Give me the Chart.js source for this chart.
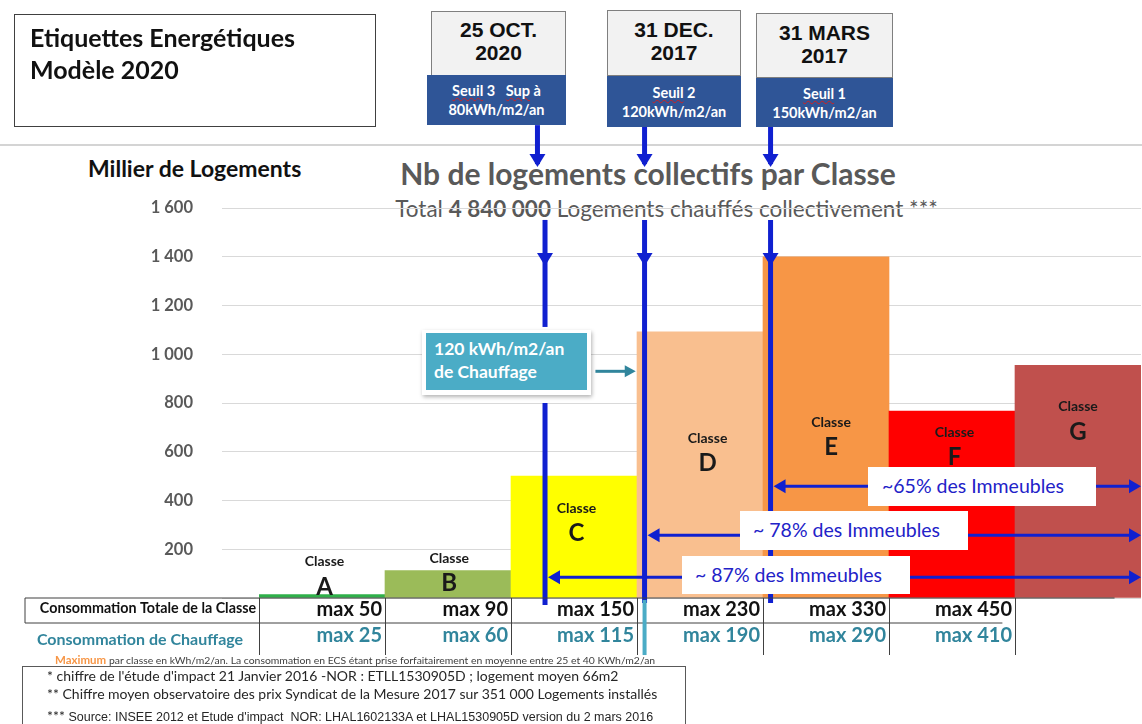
<!DOCTYPE html>
<html lang="fr">
<head>
<meta charset="utf-8">
<title>Nb de logements collectifs par Classe</title>
<script src="https://cdn.jsdelivr.net/npm/chart.js@4.4.1/dist/chart.umd.min.js"></script>
<style>
  html, body { margin: 0; padding: 0; background: #fff; }
  body { width: 1142px; height: 724px; position: relative; overflow: hidden; font-family: Lato, "Open Sans", sans-serif; }
  .abs { position: absolute; box-sizing: border-box; }
  #wrap { position: absolute; left: 0; top: 0; width: 1142px; height: 724px; z-index: 2; }
  .over { z-index: 3; }
  .under { z-index: 1; }
  .dateTop { background: #f2f2f2; border: 1px solid #7f7f7f; font: bold 21px "Liberation Sans", Arial, sans-serif; color: #111; text-align: center; line-height: 23px; }
  .seuil { background: #2f5597; color: #fff; font: bold 14.5px Lato, sans-serif; text-align: center; line-height: 19px; white-space: nowrap; }
  .seuil u { text-decoration: underline wavy #d02020; text-decoration-thickness: 1px; }
  .part { background: #fff; color: #2222c8; font: 19.5px Lato, sans-serif; line-height: 38px; white-space: nowrap; }
  .note { font: 14px Lato, sans-serif; color: #262626; white-space: nowrap; }
</style>
</head>
<body>

<div class="abs over" style="left:14px;top:14px;width:362px;height:113px;border:1.5px solid #404040;padding:6px 0 0 15px;font:bold 25px Lato,sans-serif;line-height:32px;color:#111;">
  Etiquettes Energétiques<br>Modèle 2020
</div>

<div class="abs over dateTop" style="left:431px;top:11px;width:135px;height:65px;padding-top:6px;">25 OCT.<br>2020</div>
<div class="abs over seuil" style="left:427px;top:75px;width:139px;height:50px;padding-top:6px;"><u>Seuil</u> 3&nbsp;&nbsp; <u>Sup</u> à<br>80kWh/m2/an</div>

<div class="abs over dateTop" style="left:607px;top:10px;width:134px;height:66px;padding-top:7px;">31 DEC.<br>2017</div>
<div class="abs over seuil" style="left:607px;top:76px;width:134px;height:51px;padding-top:7px;"><u>Seuil</u> 2<br>120kWh/m2/an</div>

<div class="abs over dateTop" style="left:756px;top:13px;width:137px;height:65px;padding-top:7px;">31 MARS<br>2017</div>
<div class="abs over seuil" style="left:756px;top:78px;width:137px;height:49px;padding-top:6px;"><u>Seuil</u> 1<br>150kWh/m2/an</div>

<div class="abs under" style="left:0;top:144px;width:1142px;height:2px;background:#d4d4d4;"></div>

<div class="abs under" style="left:88px;top:154px;font:bold 23px Lato,sans-serif;color:#111;white-space:nowrap;">Millier de Logements</div>
<div class="abs under" style="left:0;top:155px;width:1296px;text-align:center;font:bold 30px Lato,sans-serif;color:#595959;white-space:nowrap;">Nb de logements collectifs par Classe</div>
<div class="abs under" style="left:0;top:195px;width:1333px;text-align:center;font:22.5px Lato,sans-serif;color:#595959;white-space:nowrap;">Total <b>4 840 000</b> Logements chauffés collectivement ***</div>

<div id="wrap"><canvas id="chart"></canvas></div>

<div class="abs over" style="left:422px;top:330px;width:169px;height:65px;background:#fff;box-shadow:1px 2px 4px rgba(0,0,0,0.3);padding:3px 4px;">
  <div style="background:#4bacc6;height:57px;padding:4px 0 0 8px;box-sizing:border-box;font:bold 17.5px Lato,sans-serif;color:#fff;line-height:23px;white-space:nowrap;">120 kWh/m2/an<br>de Chauffage</div>
</div>

<div class="abs over part" style="left:868px;top:467px;width:228px;height:39px;padding-left:14px;">~65% des Immeubles</div>
<div class="abs over part" style="left:740px;top:511px;width:228px;height:39px;padding-left:13px;">~ 78% des Immeubles</div>
<div class="abs over part" style="left:682px;top:556px;width:228px;height:38px;padding-left:13px;">~ 87% des Immeubles</div>

<div class="abs over" style="left:55px;top:653px;font:10.4px Lato,sans-serif;color:#404040;white-space:nowrap;"><span style="color:#f79646;font-weight:bold;font-size:11.5px;">Maximum</span> par classe en kWh/m2/an. La consommation en ECS étant prise forfaitairement en moyenne entre 25 et 40 KWh/m2/an</div>

<div class="abs over" style="left:22px;top:666px;width:664px;height:70px;border:1.5px solid #595959;"></div>
<div class="abs over note" style="left:47px;top:667px;">* chiffre de l'étude d'impact 21 Janvier 2016 -NOR : ETLL1530905D ; logement moyen 66m2</div>
<div class="abs over note" style="left:47px;top:685px;">** Chiffre moyen observatoire des prix Syndicat de la Mesure 2017 sur 351 000 Logements installés</div>
<div class="abs over note" style="left:47px;top:707px;">*** <span style="font:12.5px 'Liberation Sans',Arial,sans-serif;">Source: INSEE 2012 et Etude d'impact&nbsp; NOR: LHAL1602133A et LHAL1530905D version du 2 mars 2016</span></div>

<script>
// data (milliers de logements)
var classes = ['A', 'B', 'C', 'D', 'E', 'F', 'G'];
var logements = [14, 112, 500, 1092, 1400, 767, 955];
var consoTotale = [50, 90, 150, 230, 330, 450, null];
var consoChauffage = [25, 60, 115, 190, 290, 410, null];
var yTicks = [0, 200, 400, 600, 800, 1000, 1200, 1400, 1600];

var barColors = ['#2fb04a', '#9bbb59', '#ffff00', '#f9bf8f', '#f79646', '#ff0000', '#c0504d'];

// where the "Classe X" labels sit (category units, value units)
var labelX = [0.02, 1.01, 2.02, 3.06, 4.04, 5.02, 6.0];
var labelLevel = [148, 164, 369, 656, 722, 681, 784];

// the three thresholds (Seuil 3, 2, 1) as positions on the class axis
var seuilTopX = [1.71, 2.56, 3.56];
var seuilX = [1.77, 2.56, 3.56];
var partLevel = [85, 257, 458]; // 87%, 78%, 65% arrows

var BLUE = '#1020d0';
var TEAL = '#31859c';

function fmt(v) {
  return v === 0 ? '' : String(v).replace(/\B(?=(\d{3})+(?!\d))/g, ' ');
}

function seg(ctx, x0, y0, x1, y1, color, w) {
  ctx.strokeStyle = color;
  ctx.lineWidth = w;
  ctx.beginPath();
  ctx.moveTo(x0, y0);
  ctx.lineTo(x1, y1);
  ctx.stroke();
}

function head(ctx, px, py, dir, color, len, half) {
  ctx.fillStyle = color;
  ctx.beginPath();
  ctx.moveTo(px, py);
  if (dir === 'down') { ctx.lineTo(px - half, py - len); ctx.lineTo(px + half, py - len); }
  if (dir === 'left') { ctx.lineTo(px + len, py - half); ctx.lineTo(px + len, py + half); }
  if (dir === 'right') { ctx.lineTo(px - len, py - half); ctx.lineTo(px - len, py + half); }
  ctx.closePath();
  ctx.fill();
}

var annotations = {
  id: 'annotations',
  afterDatasetsDraw: function (chart) {
    var ctx = chart.ctx;
    var x = chart.scales.x;
    var y = chart.scales.y;
    var area = chart.chartArea;
    ctx.save();

    // Classe labels
    ctx.textAlign = 'center';
    ctx.textBaseline = 'middle';
    ctx.fillStyle = '#1a1a1a';
    classes.forEach(function (c, i) {
      var px = x.getPixelForValue(labelX[i]);
      var py = y.getPixelForValue(labelLevel[i]);
      ctx.font = 'bold 14px Lato';
      ctx.fillText('Classe', px, py);
      ctx.font = 'bold 24px Lato';
      ctx.fillText(c, px, py + 25);
    });

    // threshold lines coming down from the Seuil boxes
    seuilX.forEach(function (sx, i) {
      var pt = x.getPixelForValue(seuilTopX[i]);
      seg(ctx, pt, y.getPixelForValue(1940), pt, y.getPixelForValue(1780), BLUE, 5);
      head(ctx, pt, y.getPixelForValue(1768), 'down', BLUE, 13, 8);

      var px = x.getPixelForValue(sx);
      if (i === 0) {
        seg(ctx, px, y.getPixelForValue(1551), px, y.getPixelForValue(1112), BLUE, 5);
        seg(ctx, px, y.getPixelForValue(800), px, y.getPixelForValue(-29), BLUE, 5);
      } else {
        seg(ctx, px, y.getPixelForValue(1551), px, y.getPixelForValue(-21), BLUE, 5);
      }
      head(ctx, px, y.getPixelForValue(1362), 'down', BLUE, 13, 8);
    });

    // share of buildings arrows
    partLevel.forEach(function (lv, i) {
      var py = y.getPixelForValue(lv);
      var x0 = x.getPixelForValue(seuilX[i]) + 3;
      var x1 = x.getPixelForValue(6.5);
      seg(ctx, x0 + 10, py, x1 - 10, py, BLUE, 3);
      head(ctx, x0, py, 'left', BLUE, 12, 7);
      head(ctx, x1, py, 'right', BLUE, 12, 7);
    });

    // callout arrow
    var cy = y.getPixelForValue(930);
    seg(ctx, x.getPixelForValue(2.17), cy, x.getPixelForValue(2.42), cy, TEAL, 3);
    head(ctx, x.getPixelForValue(2.49), cy, 'right', TEAL, 11, 6);

    // table under the bars
    var top = area.bottom;
    var mid = top + 25;
    var bot = top + 57;
    var left = 25;
    seg(ctx, left, top, x.getPixelForValue(6.29), top, '#404040', 1.2);
    seg(ctx, left, mid, x.getPixelForValue(5.4), mid, '#404040', 1);
    seg(ctx, left, top, left, mid, '#404040', 1);
    for (var i = 0; i <= 6; i++) {
      var cx = Math.round(x.getPixelForValue(i - 0.5)) + 0.5;
      seg(ctx, cx, top, cx, bot, '#404040', 1);
    }

    // Seuil 2 heating marker
    var p2 = x.getPixelForValue(seuilX[1]);
    seg(ctx, p2, y.getPixelForValue(-8), p2, y.getPixelForValue(-234), '#4bacc6', 4);

    ctx.textAlign = 'center';
    ctx.font = 'bold 14.3px Lato';
    ctx.fillStyle = '#111';
    ctx.fillText('Consommation Totale de la Classe', 148, top + 10);
    ctx.font = 'bold 16px Lato';
    ctx.fillStyle = TEAL;
    ctx.fillText('Consommation de Chauffage', 140, top + 42);

    ctx.textAlign = 'right';
    ctx.font = 'bold 20px Lato';
    classes.forEach(function (c, i) {
      var xr = x.getPixelForValue(i + 0.5) - 3;
      if (consoTotale[i] !== null) {
        ctx.fillStyle = '#111';
        ctx.fillText('max ' + consoTotale[i], xr, top + 12);
      }
      if (consoChauffage[i] !== null) {
        ctx.fillStyle = TEAL;
        ctx.fillText('max ' + consoChauffage[i], xr, top + 38);
      }
    });

    ctx.restore();
  }
};

new Chart(document.getElementById('chart'), {
  type: 'bar',
  data: {
    labels: classes,
    datasets: [{
      label: 'Milliers de logements',
      data: logements,
      backgroundColor: barColors,
      borderWidth: 0,
      categoryPercentage: 1,
      barPercentage: 1
    }]
  },
  options: {
    responsive: true,
    maintainAspectRatio: false,
    animation: false,
    devicePixelRatio: 1,
    layout: { padding: { left: 0, top: 208, right: 1, bottom: 126 } },
    plugins: {
      legend: { display: false },
      tooltip: { enabled: false },
      title: { display: false }
    },
    scales: {
      x: { display: false },
      y: {
        min: yTicks[0],
        max: yTicks[yTicks.length - 1],
        afterFit: function (scale) { scale.width = 259; },
        afterBuildTicks: function (scale) {
          scale.ticks = yTicks.map(function (v) { return { value: v }; });
        },
        grid: { color: '#d9d9d9', lineWidth: 1, tickLength: 37, drawTicks: true },
        border: { display: false },
        ticks: {
          padding: 29,
          color: '#595959',
          font: { family: 'Lato', size: 16.5, weight: 'bold' },
          callback: function (v) { return fmt(v); }
        }
      }
    }
  },
  plugins: [annotations]
});
</script>
</body>
</html>
